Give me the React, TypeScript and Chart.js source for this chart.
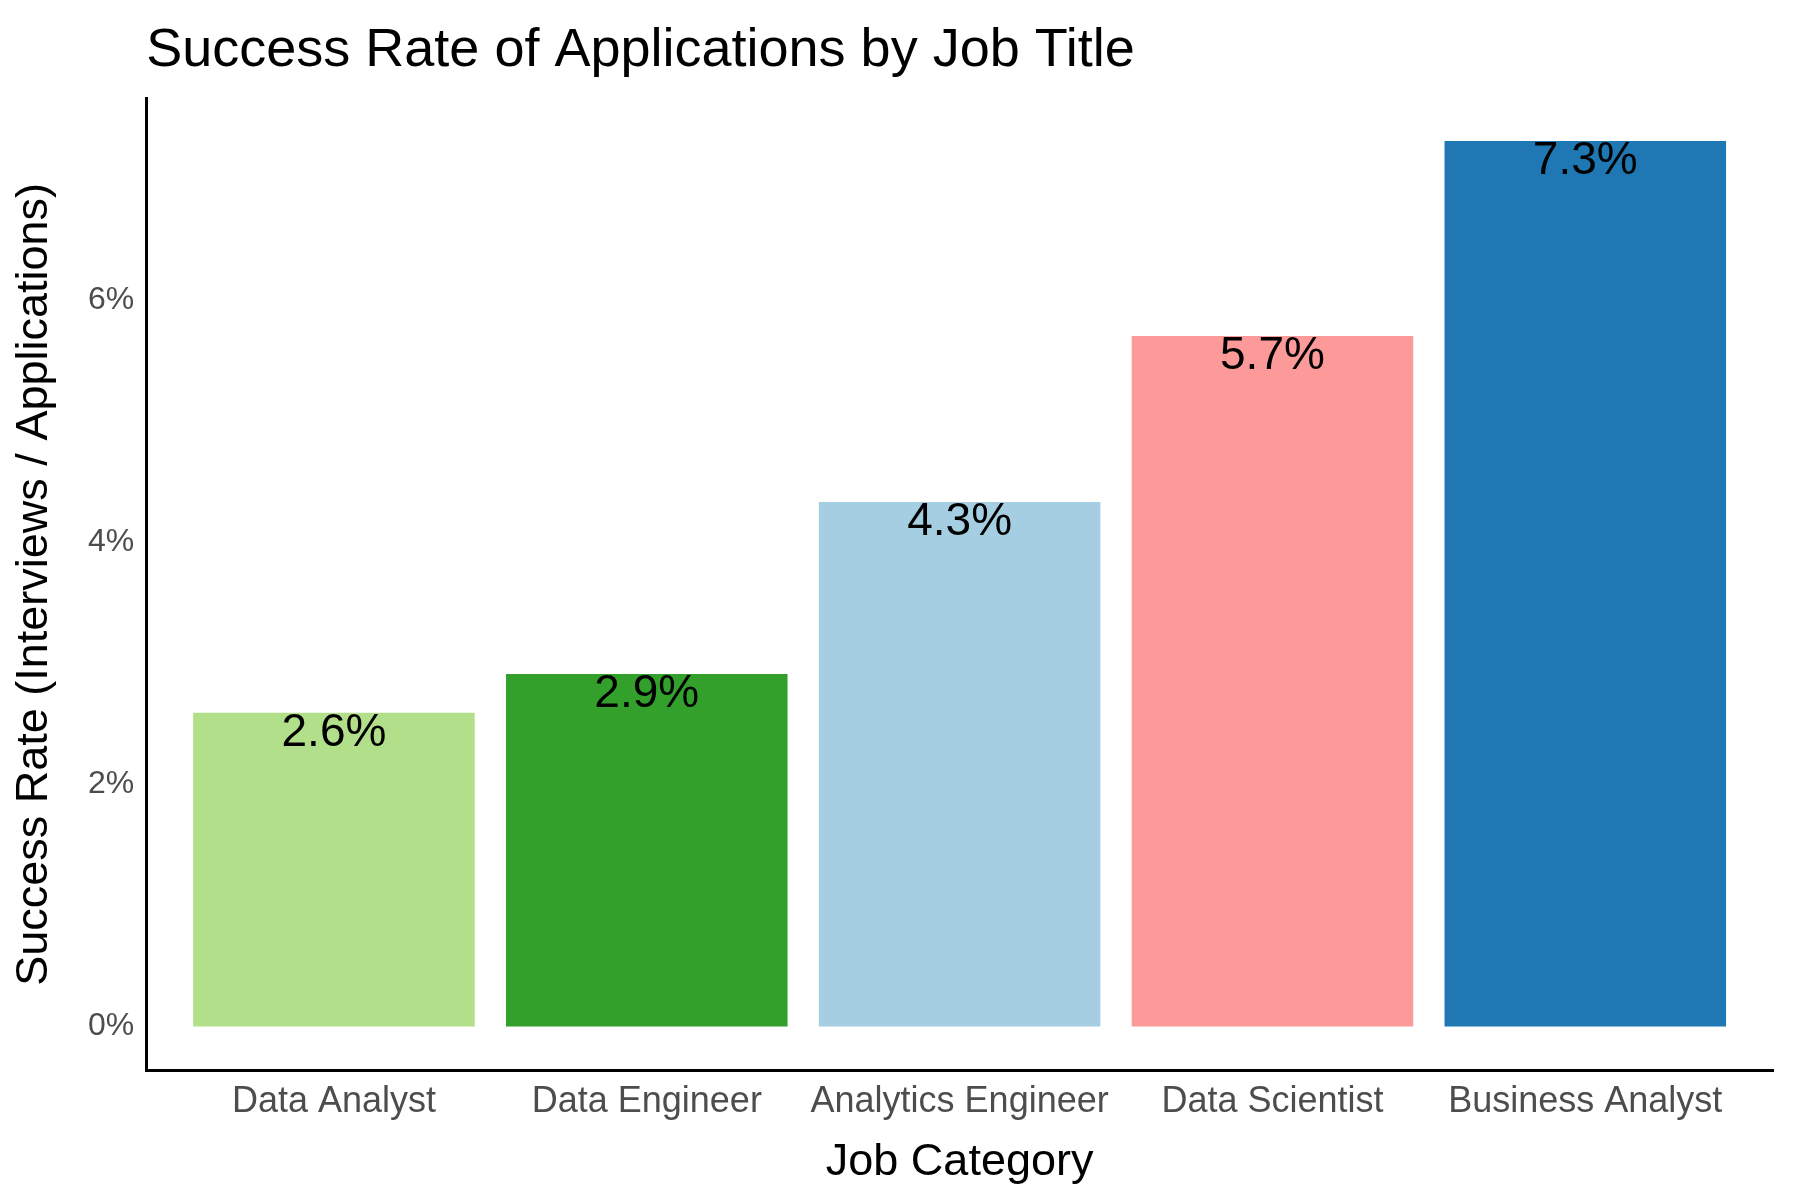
import React, { useEffect, useRef } from "react";
import { Chart, registerables } from "chart.js";
Chart.register(...registerables);

const categories = ["Data Analyst", "Data Engineer", "Analytics Engineer", "Data Scientist", "Business Analyst"];
const rates = [2.59, 2.91, 4.33, 5.7, 7.31];
const colors = ["#B2DF8A", "#33A02C", "#A6CEE3", "#FB9A99", "#1F78B4"];
const yTicks = [0, 2, 4, 6];
const FONT = "'Liberation Sans', Arial, sans-serif";

export default function App() {
  const ref = useRef<HTMLCanvasElement>(null);
  useEffect(() => {
    document.body.style.margin = "0";
    const labelPlugin = {
      id: "labels",
      afterDraw(chart: any) {
        const ctx = chart.ctx;
        ctx.save();
        ctx.fillStyle = "#000";
        ctx.font = `54px ${FONT}`;
        ctx.textAlign = "left";
        ctx.textBaseline = "alphabetic";
        ctx.fillText("Success Rate of Applications by Job Title", chart.chartArea.left, 66);
        ctx.font = `46px ${FONT}`;
        ctx.textAlign = "center";
        ctx.textBaseline = "middle";
        const meta = chart.getDatasetMeta(0);
        meta.data.forEach((bar: any, i: number) => {
          ctx.fillText(rates[i].toFixed(1) + "%", bar.x, bar.y + 20);
        });
        ctx.restore();
      },
    };
    const chart = new Chart(ref.current!, {
      type: "bar",
      data: {
        datasets: [
          {
            data: rates.map((v, i) => ({ x: i + 1, y: v })),
            backgroundColor: colors,
            categoryPercentage: 0.9,
            barPercentage: 1,
          },
        ],
      },
      options: {
        responsive: false,
        animation: false,
        layout: { padding: { top: 98, right: 27, left: 4, bottom: 6 } },
        plugins: { legend: { display: false }, tooltip: { enabled: false } },
        scales: {
          x: {
            type: "linear",
            offset: false,
            min: 0.4,
            max: 5.6,
            afterBuildTicks: (ax: any) => {
              ax.ticks = categories.map((_, i) => ({ value: i + 1 }));
            },
            ticks: {
              callback: (v: any) => categories[Number(v) - 1] ?? "",
              color: "#4d4d4d",
              font: { family: FONT, size: 36 },
              maxRotation: 0,
              padding: 10,
            },
            grid: { display: false, drawTicks: false, offset: false },
            border: { display: true, color: "#000", width: 3 },
            title: { display: true, text: "Job Category", color: "#000", font: { family: FONT, size: 45 }, padding: { top: 2 } },
          },
          y: {
            min: -0.365,
            max: 7.665,
            afterBuildTicks: (ax: any) => {
              ax.ticks = yTicks.map((v) => ({ value: v }));
            },
            ticks: {
              callback: (v: any) => v + "%",
              color: "#4d4d4d",
              font: { family: FONT, size: 32 },
              padding: 12,
            },
            grid: { display: false, drawTicks: false },
            border: { display: true, color: "#000", width: 3 },
            title: { display: true, text: "Success Rate (Interviews / Applications)", color: "#000", font: { family: FONT, size: 45 }, padding: { bottom: 14 } },
          },
        },
      },
      plugins: [labelPlugin],
    } as any);
    return () => chart.destroy();
  }, []);
  return (
    <div style={{ width: 1800, height: 1200, background: "#fff" }}>
      <canvas ref={ref} width={1800} height={1200} />
    </div>
  );
}
